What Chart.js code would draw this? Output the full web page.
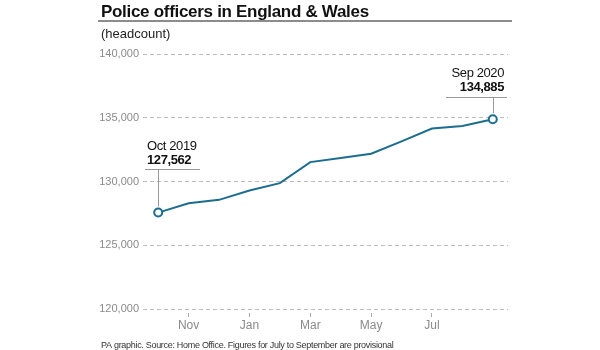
<!DOCTYPE html>
<html lang="en">
<head>
    <title>Police officers in England & Wales</title>
    <script src="https://cdn.jsdelivr.net/npm/chart.js"></script>
    <style>
        html, body { margin: 0; padding: 0; background: #fff; }
        .chart-container { position: relative; width: 600px; height: 350px; }
    </style>
</head>
<body>
    <div class="chart-container">
        <canvas id="policeChart" width="600" height="350"></canvas>
    </div>

    <script>
        // Monthly headcount, Oct 2019 - Sep 2020
        const months = ['Oct', 'Nov', 'Dec', 'Jan', 'Feb', 'Mar', 'Apr', 'May', 'Jun', 'Jul', 'Aug', 'Sep'];
        const officers = [127562, 128300, 128560, 129290, 129870, 131520, 131850, 132180, 133150, 134150, 134350, 134885];
        const shownMonths = ['Nov', 'Jan', 'Mar', 'May', 'Jul'];
        const yTicks = [120000, 125000, 130000, 135000, 140000];
        const firstLabel = 'Oct 2019';
        const lastLabel = 'Sep 2020';

        const lineColor = '#1c6d8e';
        const font = "'Liberation Sans', Arial, sans-serif";

        // Title, subtitle, footer and the two callouts
        const extras = {
            id: 'extras',
            afterDraw(chart) {
                const ctx = chart.ctx;
                const x = chart.scales.x;
                const y = chart.scales.y;
                ctx.save();

                ctx.fillStyle = '#111';
                ctx.font = 'bold 17px ' + font;
                ctx.letterSpacing = '-0.3px';
                ctx.textBaseline = 'alphabetic';
                ctx.textAlign = 'left';
                ctx.fillText('Police officers in England & Wales', 101, 17);

                ctx.strokeStyle = '#8c8c8c';
                ctx.lineWidth = 2;
                ctx.beginPath();
                ctx.moveTo(98, 21);
                ctx.lineTo(512, 21);
                ctx.stroke();

                ctx.letterSpacing = '0px';
                ctx.fillStyle = '#222';
                ctx.font = '13px ' + font;
                ctx.fillText('(headcount)', 101, 38);

                ctx.fillStyle = '#333';
                ctx.font = '9px ' + font;
                ctx.letterSpacing = '-0.3px';
                ctx.fillText('PA graphic. Source: Home Office. Figures for July to September are provisional', 101, 348);

                // first point callout
                const x0 = x.getPixelForValue(0);
                const y0 = y.getPixelForValue(officers[0]);
                ctx.strokeStyle = '#999';
                ctx.lineWidth = 1;
                ctx.beginPath();
                ctx.moveTo(145, 169.5);
                ctx.lineTo(200, 169.5);
                ctx.moveTo(Math.round(x0) + 0.5, 169.5);
                ctx.lineTo(Math.round(x0) + 0.5, y0 - 6);
                ctx.stroke();
                ctx.fillStyle = '#111';
                ctx.font = '13px ' + font;
                ctx.letterSpacing = '-0.4px';
                ctx.fillText(firstLabel, 147, 150);
                ctx.font = 'bold 13px ' + font;
                ctx.fillText(officers[0].toLocaleString('en-GB'), 147, 164);

                // last point callout
                const n = officers.length - 1;
                const x1 = x.getPixelForValue(n);
                const y1 = y.getPixelForValue(officers[n]);
                ctx.beginPath();
                ctx.moveTo(446, 97.5);
                ctx.lineTo(507, 97.5);
                ctx.moveTo(Math.round(x1) + 0.5, 97.5);
                ctx.lineTo(Math.round(x1) + 0.5, y1 - 6);
                ctx.stroke();
                ctx.textAlign = 'right';
                ctx.font = '13px ' + font;
                ctx.fillText(lastLabel, 504, 77);
                ctx.font = 'bold 13px ' + font;
                ctx.fillText(officers[n].toLocaleString('en-GB'), 504, 91);

                ctx.restore();
            }
        };

        const ctx = document.getElementById('policeChart').getContext('2d');
        new Chart(ctx, {
            type: 'line',
            data: {
                labels: months,
                datasets: [{
                    data: officers,
                    borderColor: lineColor,
                    borderWidth: 2,
                    tension: 0,
                    fill: false,
                    pointRadius: officers.map((v, i) => (i === 0 || i === officers.length - 1) ? 4 : 0),
                    pointBackgroundColor: '#fff',
                    pointBorderColor: lineColor,
                    pointBorderWidth: 2
                }]
            },
            options: {
                responsive: false,
                animation: false,
                events: [],
                layout: { padding: { top: 54, right: 92, left: 0, bottom: 0 } },
                plugins: {
                    legend: { display: false },
                    tooltip: { enabled: false }
                },
                scales: {
                    x: {
                        offset: true,
                        border: { display: false },
                        grid: {
                            offset: false,
                            drawOnChartArea: false,
                            tickLength: 8,
                            tickBorderDash: [4, 4],
                            tickBorderDashOffset: 4,
                            color: c => shownMonths.includes(months[c.index]) ? '#aaa' : 'rgba(0,0,0,0)'
                        },
                        ticks: {
                            autoSkip: false,
                            maxRotation: 0,
                            padding: 1,
                            color: '#8a8a8a',
                            font: { family: font, size: 12 },
                            callback: (v, i) => shownMonths.includes(months[i]) ? months[i] : ''
                        },
                        afterFit: s => { s.height = 41; }
                    },
                    y: {
                        min: yTicks[0],
                        max: yTicks[yTicks.length - 1],
                        border: { display: false, dash: [4, 3] },
                        grid: {
                            color: '#bbb',
                            drawTicks: false
                        },
                        afterBuildTicks: s => { s.ticks = yTicks.map(v => ({ value: v })); },
                        ticks: {
                            padding: 4,
                            color: '#8a8a8a',
                            font: { family: font, size: 11 },
                            callback: v => v.toLocaleString('en-GB')
                        },
                        afterFit: s => { s.width = 143; }
                    }
                }
            },
            plugins: [extras]
        });
    </script>
</body>
</html>
